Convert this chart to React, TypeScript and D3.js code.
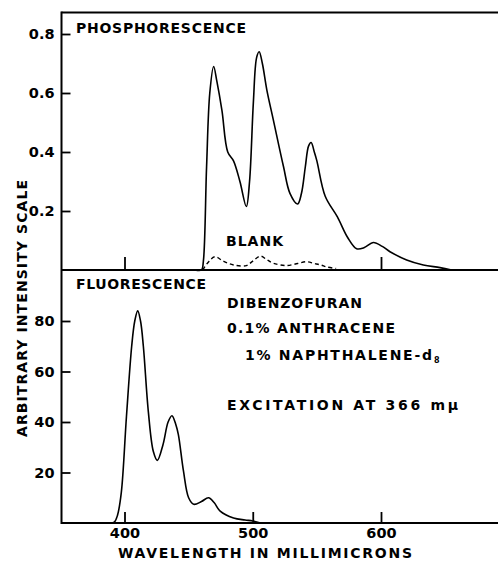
import React, { useEffect, useRef } from 'react'
import * as d3 from 'd3'

// fosforescentie spectrum (golflengte in mμ, intensiteit)
const phosWavelength = [455, 460, 461.5, 464, 466.5, 469.5, 472, 476, 480.5, 485, 490, 495, 497.5, 500.5, 503, 505, 507.5, 511, 516, 524, 529, 535, 538, 541, 543.5, 545.5, 548, 550, 556.5, 566, 574, 581, 587, 594, 601, 607, 620, 633, 646, 655]
const phosIntensity = [0, 0, 0.03, 0.35, 0.6, 0.69, 0.64, 0.54, 0.4, 0.37, 0.3, 0.215, 0.3, 0.57, 0.72, 0.74, 0.7, 0.61, 0.51, 0.35, 0.26, 0.224, 0.26, 0.35, 0.42, 0.432, 0.4, 0.37, 0.25, 0.18, 0.11, 0.072, 0.076, 0.093, 0.08, 0.062, 0.034, 0.017, 0.008, 0]

// blanco meting (gestippeld)
const blankWavelength = [461, 466, 470.5, 477, 485, 495, 500, 506, 511, 516, 526, 535, 542, 548, 553, 558, 565]
const blankIntensity = [0, 0.03, 0.045, 0.03, 0.017, 0.015, 0.03, 0.047, 0.035, 0.023, 0.015, 0.022, 0.028, 0.022, 0.017, 0.01, 0.005]

// fluorescentie spectrum
const fluorWavelength = [388, 392, 394.5, 397.5, 401.5, 405.6, 408, 410.3, 412.5, 414.7, 418.6, 422.5, 425.6, 430, 434, 437, 440, 442, 446, 450, 454, 460, 465.5, 470, 474.6, 485, 494, 500, 506]
const fluorIntensity = [0, 0.3, 3, 12, 42, 70, 80, 84, 80, 70, 44, 28.3, 24.8, 31, 40, 42.5, 39, 35, 20.5, 10, 7.4, 8.5, 10, 8, 4.7, 2, 1.2, 0.8, 0]

const xTicks = [400, 500, 600]
const phosXTicks = [400, 600]
const phosTicks = [0.2, 0.4, 0.6, 0.8]
const fluorTicks = [20, 40, 60, 80]

const width = 498
const height = 562
const frame = { top: 12.5, left: 61.5, mid: 270, bottom: 523 }
const font = '"DejaVu Sans", sans-serif'

function App() {
	const ref = useRef(null)

	useEffect(() => {
		const svg = d3.select(ref.current)
		svg.selectAll('*').remove()

		const x = d3.scaleLinear().domain([400, 600]).range([124.5, 381])
		const yPhos = d3.scaleLinear().domain([0, 0.8]).range([frame.mid, 34])
		const yFluor = d3.scaleLinear().domain([0, 80]).range([frame.bottom, 321])

		// kader lijnen
		const lines = [
			[frame.left, frame.top, width, frame.top],
			[frame.left, frame.mid, width, frame.mid],
			[frame.left, frame.bottom, width, frame.bottom],
			[frame.left, frame.top - 1, frame.left, frame.bottom + 1],
		]
		svg.selectAll('line.frame')
			.data(lines)
			.join('line')
			.attr('class', 'frame')
			.attr('x1', d => d[0])
			.attr('y1', d => d[1])
			.attr('x2', d => d[2])
			.attr('y2', d => d[3])
			.attr('stroke', '#000')
			.attr('stroke-width', 2)

		// assen
		const styleAxis = g => {
			g.select('.domain').remove()
			g.selectAll('line').attr('stroke', '#000').attr('stroke-width', 1.8)
			g.selectAll('text')
				.attr('fill', '#000')
				.style('font-family', font)
				.style('font-weight', 'bold')
				.style('font-size', '14.5px')
		}

		svg.append('g')
			.attr('transform', `translate(${frame.left},0)`)
			.call(d3.axisLeft(yPhos).tickValues(phosTicks).tickSize(-9).tickPadding(7).tickFormat(d3.format('.1f')))
			.call(styleAxis)

		svg.append('g')
			.attr('transform', `translate(${frame.left},0)`)
			.call(d3.axisLeft(yFluor).tickValues(fluorTicks).tickSize(-9).tickPadding(7))
			.call(styleAxis)

		svg.append('g')
			.attr('transform', `translate(0,${frame.mid})`)
			.call(d3.axisBottom(x).tickValues(phosXTicks).tickSize(-13).tickFormat(''))
			.call(styleAxis)

		svg.append('g')
			.attr('transform', `translate(0,${frame.bottom})`)
			.call(d3.axisBottom(x).tickValues(xTicks).tickSize(-11).tickPadding(5))
			.call(styleAxis)

		// curves
		const phosLine = d3.line().x(d => x(d[0])).y(d => yPhos(d[1])).curve(d3.curveCatmullRom.alpha(0.5))
		const fluorLine = d3.line().x(d => x(d[0])).y(d => yFluor(d[1])).curve(d3.curveCatmullRom.alpha(0.5))

		svg.append('path')
			.datum(d3.zip(phosWavelength, phosIntensity))
			.attr('d', phosLine)
			.attr('fill', 'none')
			.attr('stroke', '#000')
			.attr('stroke-width', 1.6)

		svg.append('path')
			.datum(d3.zip(blankWavelength, blankIntensity))
			.attr('d', phosLine)
			.attr('fill', 'none')
			.attr('stroke', '#000')
			.attr('stroke-width', 1.4)
			.attr('stroke-dasharray', '4,3')

		svg.append('path')
			.datum(d3.zip(fluorWavelength, fluorIntensity))
			.attr('d', fluorLine)
			.attr('fill', 'none')
			.attr('stroke', '#000')
			.attr('stroke-width', 1.6)

		// teksten
		const labels = [
			{ t: 'PHOSPHORESCENCE', x: 76, y: 33, len: 170 },
			{ t: 'BLANK', x: 226, y: 246, len: 57 },
			{ t: 'FLUORESCENCE', x: 76, y: 289, len: 130 },
			{ t: 'DIBENZOFURAN', x: 227, y: 308, len: 135 },
			{ t: '0.1% ANTHRACENE', x: 227, y: 333, len: 168 },
			{ t: '1% NAPHTHALENE-d', x: 245, y: 360, len: 187 },
			{ t: 'EXCITATION  AT  366  mμ', x: 227, y: 410, len: 231 },
			{ t: 'WAVELENGTH  IN  MILLIMICRONS', x: 118, y: 558, len: 294 },
		]
		svg.selectAll('text.label')
			.data(labels)
			.join('text')
			.attr('class', 'label')
			.attr('x', d => d.x)
			.attr('y', d => d.y)
			.attr('textLength', d => d.len)
			.attr('lengthAdjust', 'spacing')
			.style('font-family', font)
			.style('font-weight', 'bold')
			.style('font-size', '14px')
			.text(d => d.t)

		// subscript 8 bij naphthaleen-d8
		svg.append('text')
			.attr('x', 434)
			.attr('y', 363)
			.style('font-family', font)
			.style('font-weight', 'bold')
			.style('font-size', '8px')
			.text('8')

		// y-as titel
		svg.append('text')
			.attr('transform', 'translate(27,308.5) rotate(-90)')
			.attr('text-anchor', 'middle')
			.attr('textLength', 257)
			.attr('lengthAdjust', 'spacing')
			.style('font-family', font)
			.style('font-weight', 'bold')
			.style('font-size', '14px')
			.text('ARBITRARY  INTENSITY  SCALE')
	}, [])

	return (
		<svg
			ref={ref}
			width={width}
			height={height}
			style={{ position: 'absolute', left: 0, top: 0, background: '#fff' }}
		/>
	)
}

export default App
